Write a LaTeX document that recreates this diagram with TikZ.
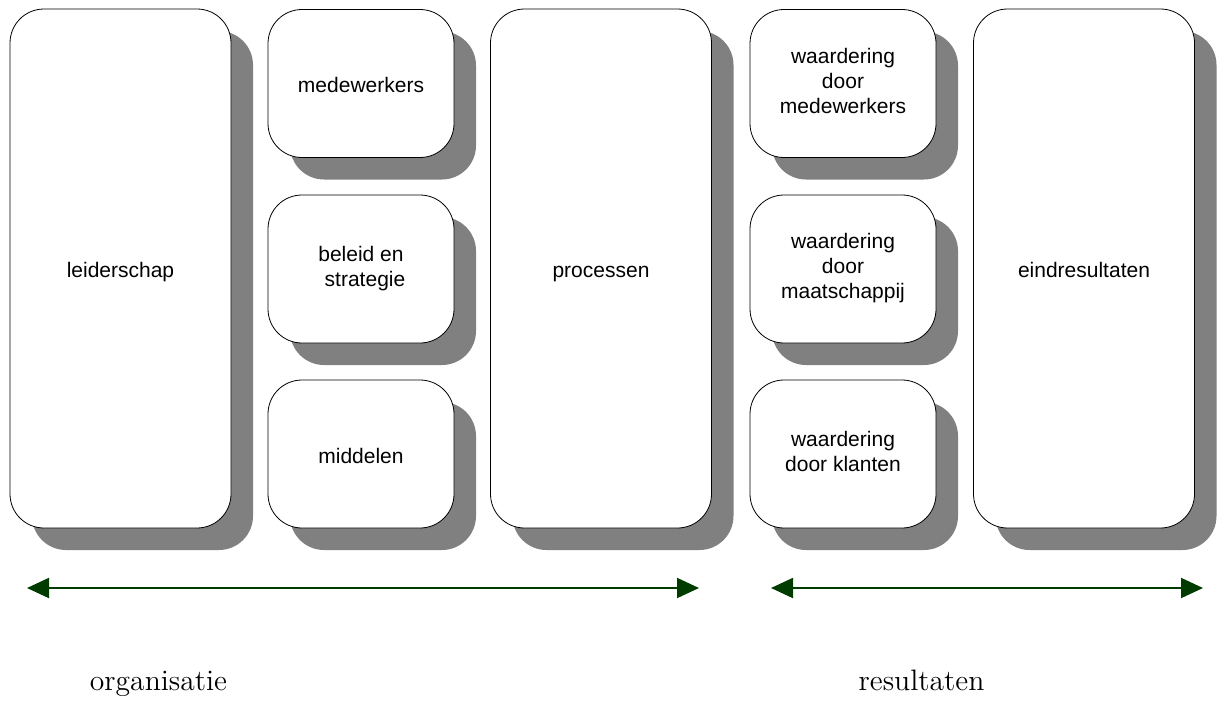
\documentclass[tikz,border=0pt]{standalone}
\usepackage{fontspec}
\newfontfamily\boxfont{Liberation Sans}
\usetikzlibrary{arrows.meta,shadows}
\definecolor{arrowgreen}{RGB}{0,60,0}
\definecolor{shadowgray}{RGB}{128,128,128}
\newcommand{\blokstrut}{\rule[-3pt]{0pt}{15pt}}
\tikzset{
  blok/.style={draw=black, fill=white, thin, rounded corners=17pt,
    align=center, font=\boxfont\fontsize{10.5}{12.5}\selectfont,
    execute at begin node=\blokstrut, execute at end node=\blokstrut,
    drop shadow={shadow xshift=11pt, shadow yshift=-11pt,
      fill=shadowgray, opacity=1}},
  grootblok/.style={blok, minimum width=110.5pt, minimum height=259.5pt},
  kleinblok/.style={blok, minimum width=93pt, minimum height=74pt},
  pijl/.style={arrowgreen, line width=1pt,
    {Triangle[length=11pt,width=10pt]}-{Triangle[length=11pt,width=10pt]}},
  onderschrift/.style={anchor=base, font=\fontsize{14.8}{17}\selectfont}
}
\begin{document}
\begin{tikzpicture}[x=0.5pt, y=-0.5pt]
  \useasboundingbox (0,0) rectangle (1225,702);
  % organisatie
  \node[grootblok] (leiderschap) at (120.5,268.5) {leiderschap};
  \node[kleinblok] (medewerkers) at (361,83.5) {medewerkers};
  \node[kleinblok] (beleid) at (361,269) {beleid en\\ \hspace{4pt}strategie};
  \node[kleinblok] (middelen) at (361,454) {middelen};
  \node[grootblok] (processen) at (601,268.5) {processen};
  % resultaten
  \node[kleinblok] (wmedewerkers) at (843,83.5) {waardering\\door\\medewerkers};
  \node[kleinblok] (wmaatschappij) at (843,269) {waardering\\door\\maatschappij};
  \node[kleinblok] (wklanten) at (843,454) {waardering\\door klanten};
  \node[grootblok] (eindresultaten) at (1084,268.5) {eindresultaten};
  % pijlen
  \coordinate (orgbegin) at (27,588);
  \coordinate (orgeind) at (699,588);
  \coordinate (resbegin) at (771,588);
  \coordinate (reseind) at (1203,588);
  \draw[pijl] (orgbegin) -- (orgeind);
  \draw[pijl] (resbegin) -- (reseind);
  \node[onderschrift] (organisatie) at (158.5,690) {organisatie};
  \node[onderschrift] (resultaten) at (921.5,690) {resultaten};
\end{tikzpicture}
\end{document}
